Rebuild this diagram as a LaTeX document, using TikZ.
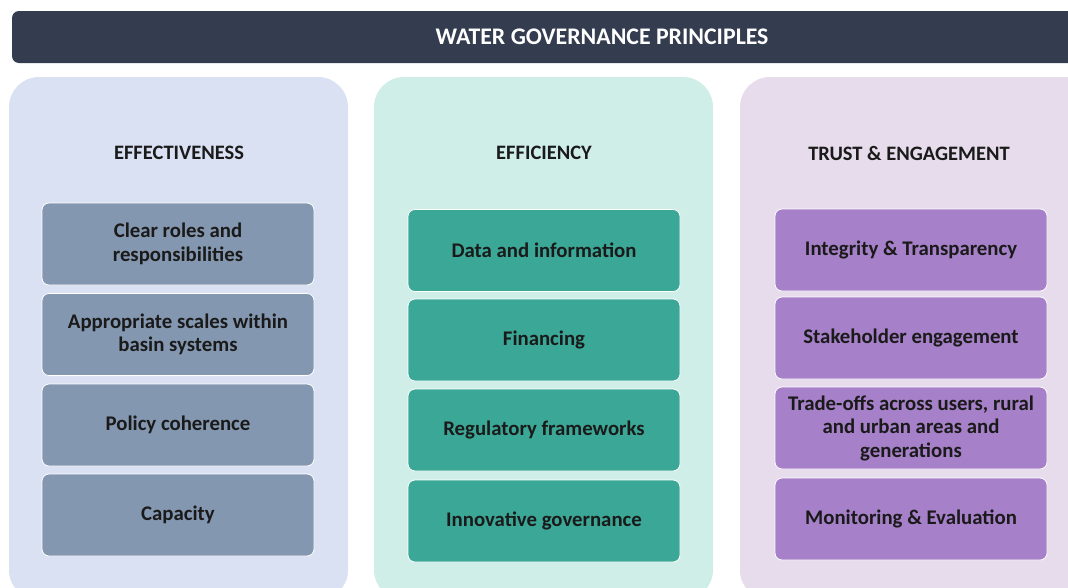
\documentclass[tikz,border=0pt]{standalone}
\usepackage{fontspec}
\setmainfont{Carlito}
\usepackage{tikz}

\definecolor{headbar}{HTML}{333D4F}
\definecolor{paneleff}{HTML}{D9E1F2}
\definecolor{panelefc}{HTML}{D0EEE8}
\definecolor{paneltrust}{HTML}{E6DCEB}
\definecolor{itemeff}{HTML}{8497B0}
\definecolor{itemefc}{HTML}{3BA897}
\definecolor{itemtrust}{HTML}{A680C8}
\definecolor{inktext}{HTML}{1A1A1A}

\begin{document}
\begin{tikzpicture}[x=1pt,y=-1pt,
  panel/.style={rounded corners=30pt},
  heading/.style={font=\fontsize{20.5}{24}\selectfont\bfseries, text=inktext},
  item/.style={draw=white, line width=0.8pt, rounded corners=7pt,
    minimum width=272pt, minimum height=82pt, align=center,
    font=\fontsize{20.8}{23.5}\selectfont\bfseries, text=inktext}]

\useasboundingbox (0,0) rectangle (1068,587);
\clip (0,0) rectangle (1068,587);

% title bar
\fill[headbar, rounded corners=7pt] (12,11) rectangle (1090,63);
\node[font=\fontsize{23.8}{28}\selectfont\bfseries, text=white] (title) at (602,37) {WATER GOVERNANCE PRINCIPLES};

% three panels
\fill[paneleff, panel] (9,77) rectangle (348,600);
\fill[panelefc, panel] (374,77) rectangle (713,600);
\fill[paneltrust, panel] (740,77) rectangle (1100,600);

\node[heading] (effhead) at (179,153) {EFFECTIVENESS};
\node[heading] (efchead) at (544,153) {EFFICIENCY};
\node[heading] (trusthead) at (909,153) {TRUST \& ENGAGEMENT};

% effectiveness
\node[item, fill=itemeff] (roles) at (178,244) {Clear roles and\\responsibilities};
\node[item, fill=itemeff] (scales) at (178,334.5) {Appropriate scales within\\basin systems};
\node[item, fill=itemeff] (policy) at (178,425) {Policy coherence};
\node[item, fill=itemeff] (capacity) at (178,515) {Capacity};

% efficiency
\node[item, fill=itemefc] (data) at (544,250.5) {Data and information};
\node[item, fill=itemefc] (finance) at (544,340) {Financing};
\node[item, fill=itemefc] (regul) at (544,430) {Regulatory frameworks};
\node[item, fill=itemefc] (innov) at (544,521) {Innovative governance};

% trust and engagement
\node[item, fill=itemtrust] (integ) at (911,250) {Integrity \& Transparency};
\node[item, fill=itemtrust] (stake) at (911,338) {Stakeholder engagement};
\node[item, fill=itemtrust] (trade) at (911,428) {Trade-offs across users, rural\\and urban areas and\\generations};
\node[item, fill=itemtrust] (monit) at (911,519) {Monitoring \& Evaluation};

\end{tikzpicture}
\end{document}
